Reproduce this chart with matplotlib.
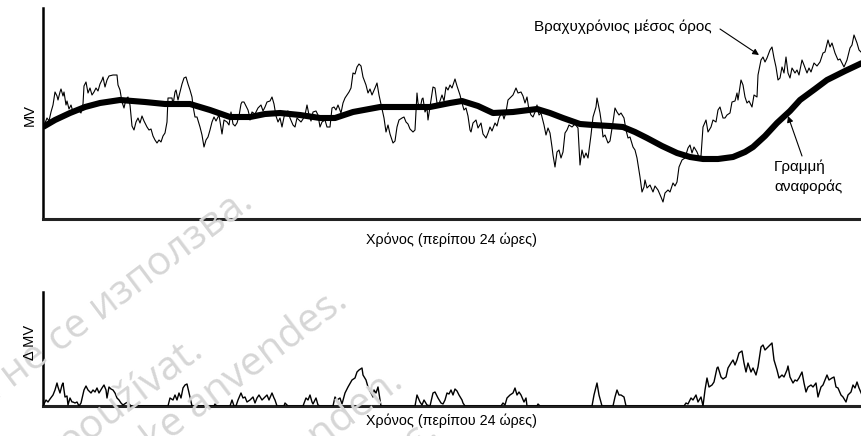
import matplotlib
matplotlib.use("Agg")
from matplotlib import pyplot as plt

plt.rcParams["font.family"] = ["Liberation Sans", "DejaVu Sans"]

# short-term average MV (time index, level)
mv_t = [43, 45, 47, 49, 51, 53, 55, 57, 58, 60, 61, 63, 64, 66, 67, 69, 71, 73, 76, 79,
        81, 83, 84, 86, 88, 90, 92, 94, 96, 98, 100, 102, 103, 105, 107, 109, 113, 117, 118, 120,
        122, 124, 126, 128, 130, 132, 134, 136, 138, 140, 142, 144, 147, 149, 151, 153, 155, 157, 159, 161,
        163, 165, 167, 168, 170, 172, 173, 175, 176, 178, 180, 182, 184, 186, 188, 190, 192, 193, 195, 197,
        200, 202, 204, 206, 208, 210, 212, 214, 216, 219, 221, 222, 224, 227, 229, 231, 233, 235, 237, 239,
        241, 242, 244, 246, 248, 249, 250, 252, 255, 258, 261, 263, 265, 267, 270, 272, 274, 276, 278, 280,
        282, 284, 286, 288, 290, 293, 295, 297, 299, 301, 303, 305, 307, 309, 311, 313, 316, 318, 320, 322,
        325, 327, 330, 332, 334, 336, 338, 341, 343, 345, 347, 349, 351, 353, 355, 357, 359, 361, 363, 366,
        368, 370, 372, 375, 377, 379, 381, 383, 384, 386, 388, 390, 393, 395, 397, 399, 402, 404, 406, 408,
        410, 413, 415, 417, 418, 420, 422, 423, 425, 427, 428, 430, 432, 433, 435, 437, 439, 442, 444, 446,
        448, 450, 452, 455, 457, 460, 462, 464, 466, 468, 470, 471, 473, 476, 478, 481, 483, 486, 488, 490,
        492, 495, 497, 499, 502, 504, 506, 508, 511, 513, 516, 518, 521, 523, 525, 527, 529, 531, 533, 535,
        537, 539, 541, 544, 546, 548, 550, 552, 553, 555, 557, 559, 561, 563, 565, 567, 569, 572, 575, 578,
        580, 582, 584, 586, 588, 591, 593, 596, 597, 600, 602, 603, 605, 608, 610, 613, 615, 617, 619, 621,
        624, 626, 628, 630, 633, 635, 637, 640, 642, 644, 645, 647, 650, 653, 655, 658, 661, 663, 665, 668,
        670, 673, 675, 677, 679, 682, 685, 688, 690, 692, 694, 697, 699, 701, 703, 706, 708, 711, 713, 716,
        718, 720, 723, 725, 727, 730, 732, 735, 737, 738, 741, 743, 745, 747, 749, 752, 754, 757, 758, 761,
        763, 765, 767, 770, 772, 774, 776, 778, 780, 782, 784, 786, 788, 790, 792, 795, 797, 799, 802, 804,
        807, 809, 811, 814, 817, 820, 823, 825, 828, 830, 832, 835, 838, 840, 842, 844, 847, 850, 852, 854,
        857, 859, 862]
mv_v = [92, 96, 101, 98, 107, 114, 127, 123, 119, 127, 130, 123, 127, 114, 118, 110, 114, 107, 109, 108,
        106, 115, 133, 137, 126, 131, 124, 127, 131, 128, 135, 139, 142, 132, 139, 143, 144, 144, 134, 129,
        117, 111, 120, 122, 114, 93, 89, 97, 101, 96, 103, 98, 92, 89, 90, 83, 79, 76, 79, 77,
        83, 86, 97, 121, 121, 121, 114, 127, 129, 119, 127, 135, 141, 142, 135, 129, 122, 113, 102, 102,
        92, 84, 72, 79, 82, 89, 97, 102, 98, 104, 91, 85, 99, 97, 94, 107, 95, 93, 96, 103,
        115, 117, 117, 113, 109, 105, 99, 107, 105, 111, 114, 108, 112, 117, 118, 122, 115, 103, 97, 101,
        92, 102, 107, 108, 101, 94, 92, 101, 99, 97, 100, 104, 114, 104, 98, 107, 108, 104, 92, 97,
        99, 92, 92, 111, 112, 109, 114, 106, 116, 121, 124, 127, 131, 146, 145, 152, 155, 153, 142, 134,
        126, 130, 124, 131, 136, 124, 115, 106, 101, 87, 94, 85, 76, 78, 92, 99, 101, 102, 97, 95,
        90, 87, 89, 126, 116, 110, 120, 121, 107, 111, 99, 112, 125, 132, 131, 116, 115, 124, 118, 132,
        129, 134, 131, 140, 133, 124, 116, 109, 111, 103, 89, 87, 96, 99, 91, 96, 85, 81, 86, 92,
        88, 96, 93, 101, 107, 100, 107, 119, 122, 124, 131, 126, 127, 123, 116, 122, 109, 104, 102, 107,
        114, 104, 106, 94, 84, 91, 86, 72, 64, 52, 67, 69, 61, 67, 86, 89, 94, 92, 95, 91,
        54, 69, 61, 66, 61, 84, 102, 112, 121, 106, 92, 82, 84, 76, 78, 97, 111, 107, 104, 106,
        101, 89, 81, 82, 72, 69, 61, 42, 27, 32, 39, 31, 34, 27, 33, 29, 22, 17, 26, 29,
        27, 36, 33, 37, 52, 59, 61, 71, 74, 66, 72, 67, 62, 63, 92, 99, 87, 92, 99, 97,
        109, 112, 101, 101, 104, 106, 117, 118, 126, 119, 139, 134, 122, 116, 118, 112, 124, 122, 144, 159,
        162, 157, 161, 169, 172, 161, 152, 139, 141, 152, 146, 162, 146, 141, 151, 146, 149, 144, 159, 154,
        146, 151, 147, 156, 153, 157, 166, 167, 179, 172, 176, 166, 159, 160, 156, 152, 159, 171, 174, 184,
        176, 169, 166]

# reference line
ref_t = [43, 55, 70, 85, 100, 120, 145, 165, 190, 210, 230, 250, 265, 280, 300, 320, 335, 353, 380, 405,
         430, 450, 462, 478, 493, 513, 537, 550, 563, 580, 593, 610, 623, 635, 647, 662, 677, 690, 703, 718,
         733, 745, 753, 765, 777, 790, 800, 815, 827, 845, 862]
ref_v = [92, 99, 106, 112, 116, 119, 117, 115, 115, 109, 102, 102, 105, 106, 104, 101, 101, 107, 112, 112,
         112, 116, 118, 113, 106, 107, 110, 106, 101, 95, 94, 93, 92, 87, 81, 73, 66, 62, 60, 60,
         62, 67, 72, 83, 96, 108, 119, 130, 139, 148, 156]

# delta MV
d_t = [43, 46, 48, 50, 53, 55, 57, 58, 60, 62, 63, 65, 67, 68, 70, 72, 73, 75, 77, 79,
       81, 84, 86, 88, 91, 93, 95, 97, 99, 102, 104, 106, 107, 109, 111, 113, 115, 117, 119, 121,
       123, 126, 128, 130, 131, 168, 170, 173, 175, 177, 179, 181, 183, 185, 187, 189, 192, 214, 215, 217,
       230, 232, 234, 236, 238, 241, 243, 245, 247, 250, 253, 255, 257, 259, 262, 264, 267, 269, 272, 274,
       275, 277, 284, 285, 288, 303, 306, 308, 310, 312, 313, 316, 318, 320, 333, 335, 337, 340, 342, 345,
       348, 352, 355, 357, 359, 362, 363, 366, 368, 371, 373, 374, 376, 378, 381, 415, 417, 420, 422, 424,
       427, 430, 433, 435, 438, 441, 443, 445, 447, 449, 451, 453, 455, 457, 459, 462, 463, 465, 501, 503,
       505, 507, 510, 513, 515, 517, 519, 521, 524, 526, 527, 537, 538, 540, 592, 594, 597, 599, 602, 613,
       615, 617, 619, 621, 624, 626, 684, 686, 688, 691, 693, 696, 698, 701, 703, 705, 707, 709, 712, 714,
       717, 718, 721, 723, 726, 728, 731, 733, 735, 737, 739, 742, 744, 746, 748, 751, 753, 756, 758, 761,
       763, 765, 768, 770, 772, 774, 777, 779, 782, 784, 787, 788, 790, 793, 795, 797, 799, 802, 804, 806,
       808, 811, 813, 816, 818, 821, 823, 825, 827, 829, 832, 834, 836, 838, 841, 843, 846, 848, 851, 853,
       855, 857, 859, 862]
d_v = [0, 6, 4, 7, 11, 16, 23, 19, 13, 21, 23, 9, 10, 1, 8, 4, 4, 3, 4, 0,
       3, 16, 20, 16, 13, 16, 14, 18, 13, 18, 21, 16, 8, 19, 17, 16, 13, 8, 6, 3,
       1, 3, 4, 1, 0, 0, 8, 6, 11, 6, 13, 8, 18, 21, 22, 13, 0, 0, 2, 0,
       0, 6, 0, 0, 6, 13, 8, 9, 4, 6, 9, 3, 8, 11, 6, 8, 11, 6, 13, 8,
       6, 0, 0, 3, 0, 0, 8, 6, 11, 4, 2, 8, 1, 0, 0, 9, 6, 8, 2, 13,
       19, 26, 28, 34, 36, 38, 31, 26, 19, 13, 9, 16, 13, 19, 0, 0, 11, 4, 1, 6,
       1, 0, 13, 14, 8, 3, 2, 6, 13, 12, 16, 11, 17, 15, 11, 6, 3, 0, 0, 3,
       1, 8, 11, 13, 18, 11, 14, 11, 4, 8, 0, 0, 2, 0, 0, 11, 23, 11, 0, 0,
       9, 16, 11, 11, 9, 0, 0, 3, 2, 8, 6, 11, 4, 9, 0, 16, 28, 19, 21, 24,
       38, 39, 29, 27, 29, 38, 43, 46, 41, 46, 53, 55, 43, 34, 43, 34, 38, 31, 39, 59,
       61, 56, 59, 61, 63, 46, 36, 28, 31, 29, 36, 40, 29, 23, 26, 25, 28, 34, 23, 14,
       19, 21, 19, 23, 9, 19, 21, 26, 31, 26, 28, 29, 19, 18, 11, 9, 4, 11, 14, 21,
       18, 24, 18, 11]

watermarks = ["Остаряла версия. Да не се използва.",
              "Zastaralá verze. Nepoužívat.",
              "Forældet version. Må ikke anvendes.",
              "Veraltete Version. Nicht verwenden.",
              "Παλιά έκδοση. Μην τη χρησιμοποιείτε."]

W, H = 862, 436
fig = plt.figure(figsize=(W / 100, H / 100), dpi=100)

ax1 = fig.add_axes([43 / W, (H - 219) / H, (W - 43) / W, 211 / H])
ax2 = fig.add_axes([43 / W, (H - 406) / H, (W - 43) / W, 114 / H])

ax1.plot(mv_t, mv_v, color="black", lw=0.8, zorder=3)
ax1.plot(ref_t, ref_v, color="black", lw=4.4, solid_capstyle="butt", zorder=4)
ax1.set_xlim(43, 862)
ax1.set_ylim(0, 211)

ax2.plot(d_t, d_v, color="black", lw=1.0, zorder=3)
ax2.set_xlim(43, 862)
ax2.set_ylim(0, 114)

for ax in (ax1, ax2):
    ax.patch.set_alpha(0)
    ax.spines["top"].set_visible(False)
    ax.spines["right"].set_visible(False)
    ax.spines["left"].set_linewidth(1.8)
    ax.spines["bottom"].set_linewidth(2.2)
    ax.spines["bottom"].set_color("#222222")
    ax.set_xticks([])
    ax.set_yticks([])

arrow = dict(arrowstyle="-|>", color="black", lw=0.8, mutation_scale=9,
             shrinkA=0, shrinkB=0)
ax1.text(712, 192, "Βραχυχρόνιος μέσος όρος", ha="right", va="center", fontsize=11)
ax1.annotate("", xy=(759, 164), xytext=(720, 190), arrowprops=arrow)
ax1.text(774, 52, "Γραμμή", ha="left", va="center", fontsize=11)
ax1.text(774, 32, "αναφοράς", ha="left", va="center", fontsize=11)
ax1.annotate("", xy=(788, 103), xytext=(802, 63), arrowprops=arrow)

fig.text(30 / W, 1 - 115 / H, "MV", rotation=90, ha="center", va="center", fontsize=10.5)
fig.text(452 / W, 1 - 240 / H, "Χρόνος (περίπου 24 ώρες)", ha="center", va="center", fontsize=10.3)
fig.text(30 / W, 1 - 342 / H, "Δ MV", rotation=90, ha="center", va="center", fontsize=10.5)
fig.text(452 / W, 1 - 421 / H, "Χρόνος (περίπου 24 ώρες)", ha="center", va="center", fontsize=10.3)

# faint watermark lines
wm_end = [(255, 205), (205, 355), (350, 305), (405, 385), (440, 436)]
for txt, (ex, ey) in zip(watermarks, wm_end):
    fig.text(ex / W, 1 - ey / H, txt, rotation=37, rotation_mode="anchor",
             ha="right", va="baseline", fontsize=29, color="#d6d6d6",
             family=["Open Sans", "DejaVu Sans"], zorder=0)

fig.savefig("out.png", dpi=100)
